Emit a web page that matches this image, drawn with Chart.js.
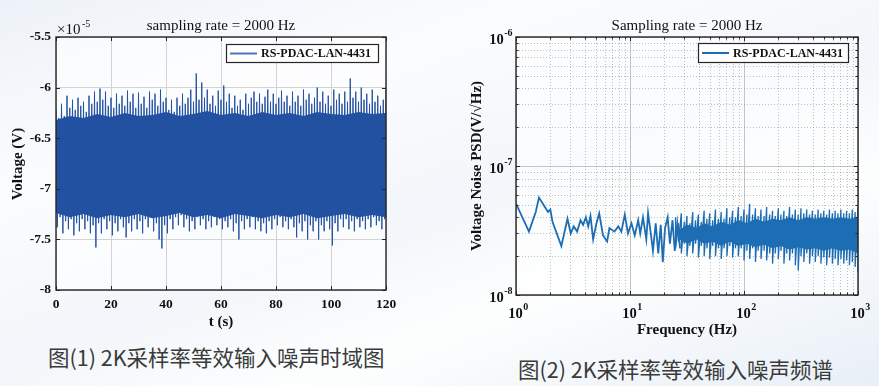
<!DOCTYPE html>
<html>
<head>
<meta charset="utf-8">
<script src="https://cdn.jsdelivr.net/npm/chart.js@4.4.0/dist/chart.umd.min.js"></script>
<style>
  html, body { margin: 0; padding: 0; }
  body {
    width: 879px; height: 386px; position: relative; overflow: hidden;
    background: linear-gradient(160deg, #edf2f8 0%, #fbfcfe 28%, #f3f6fa 52%, #fdfefe 70%, #e8eff7 100%);
  }
  #wrapL { position: absolute; left: 0; top: 0; width: 440px; height: 340px; }
  #wrapR { position: absolute; left: 440px; top: 0; width: 439px; height: 345px; }
  .cap {
    position: absolute; font-family: "Noto Sans CJK SC", sans-serif; font-size: 21.5px;
    color: #3a3a3a; white-space: nowrap; line-height: 1;
  }
</style>
</head>
<body>
<div id="wrapL"><canvas id="cL" width="440" height="340"></canvas></div>
<div id="wrapR"><canvas id="cR" width="439" height="345"></canvas></div>
<div class="cap" style="left:48px; top:346px;">图(1) 2K采样率等效输入噪声时域图</div>
<div class="cap" style="left:518px; top:358px;">图(2) 2K采样率等效输入噪声频谱</div>

<script>
// ---- time domain (x1e-5 V): upper / lower peaks of the noise, one pair per second
const tStep = 1;
const tTop = [
  -6.22, -6.30, -6.16, -6.28, -6.08, -6.20, -6.12, -6.22, -6.10, -6.18,
  -6.14, -6.24, -6.08, -6.16, -6.04, -6.14, -6.01, -6.12, -6.04, -6.18,
  -6.10, -6.20, -6.06, -6.16, -6.08, -6.18, -6.03, -6.14, -6.06, -6.20,
  -6.05, -6.16, -6.09, -6.20, -6.04, -6.12, -6.06, -6.18, -6.02, -6.14,
  -6.10, -6.22, -6.12, -6.24, -6.10, -6.18, -6.06, -6.16, -6.10, -6.02,
  -6.14, -5.86, -6.12, -5.95, -6.10, -6.02, -6.16, -6.08, -6.18, -6.03,
  -6.12, -5.98, -6.14, -6.06, -6.20, -6.08, -6.18, -6.12, -6.22, -6.06,
  -6.16, -6.10, -6.04, -6.14, -6.06, -6.16, -6.09, -6.02, -6.14, -6.06,
  -6.16, -6.10, -6.03, -6.14, -6.08, -6.18, -6.04, -6.14, -6.08, -6.18,
  -6.02, -6.12, -6.06, -6.16, -6.10, -6.00, -6.14, -6.04, -6.16, -6.08,
  -6.18, -6.02, -6.12, -6.06, -6.16, -6.04, -6.14, -5.91, -6.10, -6.04,
  -6.14, -6.00, -6.12, -6.06, -6.16, -6.02, -6.14, -6.08, -6.18, -6.12,
  -6.02
];
const tBottom = [
  -7.38, -7.28, -7.44, -7.32, -7.40, -7.30, -7.46, -7.34, -7.42, -7.30,
  -7.40, -7.32, -7.44, -7.36, -7.58, -7.34, -7.44, -7.30, -7.40, -7.32,
  -7.46, -7.34, -7.42, -7.30, -7.38, -7.48, -7.34, -7.42, -7.30, -7.40,
  -7.32, -7.44, -7.30, -7.38, -7.28, -7.42, -7.34, -7.50, -7.59, -7.36,
  -7.44, -7.30, -7.40, -7.28, -7.36, -7.26, -7.38, -7.30, -7.42, -7.32,
  -7.40, -7.28, -7.36, -7.30, -7.40, -7.32, -7.38, -7.28, -7.36, -7.30,
  -7.40, -7.32, -7.38, -7.30, -7.42, -7.34, -7.50, -7.32, -7.40, -7.30,
  -7.38, -7.28, -7.40, -7.32, -7.42, -7.34, -7.44, -7.32, -7.40, -7.30,
  -7.36, -7.28, -7.38, -7.32, -7.40, -7.30, -7.38, -7.48, -7.34, -7.42,
  -7.32, -7.50, -7.36, -7.42, -7.32, -7.50, -7.36, -7.42, -7.32, -7.40,
  -7.56, -7.34, -7.42, -7.30, -7.38, -7.30, -7.40, -7.32, -7.42, -7.30,
  -7.38, -7.32, -7.40, -7.30, -7.38, -7.28, -7.36, -7.32, -7.40, -7.30,
  -7.36
];
// solid core of the time-domain band (every 5 s)
const coreT = [0, 5, 10, 15, 20, 25, 30, 35, 40, 45, 50, 55, 60, 65, 70, 75, 80, 85, 90, 95, 100, 105, 110, 115, 120];
const coreTopL = [-6.32, -6.28, -6.30, -6.26, -6.29, -6.25, -6.28, -6.27, -6.24, -6.28, -6.26, -6.23, -6.27,
  -6.25, -6.28, -6.24, -6.27, -6.25, -6.28, -6.24, -6.26, -6.27, -6.24, -6.26, -6.25];
const coreBotL = [-7.24, -7.28, -7.25, -7.29, -7.26, -7.28, -7.25, -7.29, -7.27, -7.24, -7.28, -7.26, -7.29,
  -7.25, -7.27, -7.29, -7.26, -7.28, -7.25, -7.29, -7.27, -7.25, -7.28, -7.26, -7.28];
const xTicksL = [0, 20, 40, 60, 80, 100, 120];
const yTicksL = [-8, -7.5, -7, -6.5, -6, -5.5];

// ---- PSD (x1e-8 V/sqrt(Hz)): low-frequency line, then the dense band above ~25 Hz
const psdFreq = [1.0, 1.3, 1.49, 1.59, 1.82, 1.91, 2.0, 2.09, 2.5, 2.83, 3.02, 3.21, 3.44, 3.68, 3.88,
  4.1, 4.3, 4.5, 4.75, 5.08, 5.37, 5.8, 6.3, 6.6, 7.3, 7.9, 8.4, 9.0, 9.6, 10.3, 11.0, 11.8, 12.3,
  13.0, 13.9, 14.4, 15.3, 15.9, 16.8, 17.7, 18.6, 19.4, 20.3, 21.4, 22.4, 23.6, 24.7, 26.0, 27.5];
const psdVal = [5.1, 3.1, 4.4, 5.7, 4.7, 4.4, 4.6, 3.7, 2.4, 3.9, 3.0, 3.4, 3.1, 3.8, 3.5,
  4.0, 3.4, 4.1, 2.7, 3.6, 4.3, 2.9, 2.6, 3.3, 3.1, 3.4, 3.1, 4.2, 3.0, 3.6, 2.9, 3.8, 3.0,
  4.0, 2.7, 4.3, 2.9, 2.2, 3.6, 2.1, 3.5, 1.8, 3.3, 4.0, 2.5, 3.8, 2.2, 3.6, 2.3];
const bandFreq = [25.1, 26.6, 28.2, 29.9, 31.6, 33.5, 35.5, 37.6, 39.8, 42.2, 44.7, 47.3, 50.1, 53.1,
  56.2, 59.6, 63.1, 66.8, 70.8, 75.0, 79.4, 84.1, 89.1, 94.4, 100, 106, 112, 119, 126, 133, 141, 150,
  158, 168, 178, 188, 200, 211, 224, 237, 251, 266, 282, 299, 316, 335, 355, 376, 398, 422, 447, 473,
  501, 531, 562, 596, 631, 668, 708, 750, 794, 841, 891, 944, 1000];
const bandHigh = [4.0, 3.6, 4.3, 3.7, 4.1, 3.6, 4.4, 3.8, 4.2, 3.7, 4.5, 3.9, 4.3, 3.8,
  4.6, 3.9, 4.4, 3.9, 4.7, 4.0, 4.5, 4.0, 4.8, 4.1, 4.6, 4.2, 5.1, 4.2, 4.7, 4.1, 4.6, 4.1,
  4.8, 4.2, 4.5, 4.1, 4.7, 4.2, 4.5, 4.1, 4.8, 4.2, 4.6, 4.2, 4.7, 4.3, 4.6, 4.2, 4.5, 4.2, 4.6, 4.3,
  4.5, 4.2, 4.6, 4.3, 4.5, 4.3, 4.6, 4.3, 4.5, 4.3, 4.6, 4.4, 4.8];
const bandLow = [2.3, 2.6, 2.1, 2.5, 2.0, 2.4, 2.1, 2.5, 1.95, 2.4, 2.0, 2.3, 1.9, 2.4,
  2.0, 2.3, 1.9, 2.3, 2.0, 2.4, 1.95, 2.3, 2.0, 2.3, 1.85, 2.2, 1.9, 2.3, 1.8, 2.2, 1.9, 2.2,
  1.85, 2.1, 1.75, 2.1, 1.9, 2.2, 1.75, 2.1, 1.85, 2.1, 1.7, 1.55, 2.0, 1.8, 2.1, 1.75, 2.0, 1.8, 2.0, 1.75,
  1.95, 1.7, 1.95, 1.75, 1.9, 1.7, 1.9, 1.75, 1.85, 1.7, 1.8, 1.65, 1.5];
// solid core of the PSD band
const coreFreq = [27, 32, 38, 45, 53, 63, 75, 89, 106, 126, 150, 178, 211, 251, 299, 355, 422, 501, 596, 708, 841, 1000];
const coreHigh = [3.2, 3.5, 3.3, 3.6, 3.4, 3.7, 3.5, 3.8, 3.6, 3.9, 3.7, 3.9, 3.8, 4.0, 3.8, 4.0, 3.9, 4.0, 3.9, 4.0, 3.9, 4.0];
const coreLow = [2.7, 2.5, 2.7, 2.5, 2.6, 2.4, 2.6, 2.4, 2.5, 2.35, 2.45, 2.3, 2.4, 2.25, 2.35, 2.25, 2.3, 2.2, 2.3, 2.2, 2.25, 2.1];
const xDecR = [1, 10, 100, 1000];
const yDecR = [1e-8, 1e-7, 1e-6];
const minorMul = [2, 3, 4, 5, 6, 7, 8, 9];

const serif = '"Liberation Serif", "Times New Roman", serif';
const bandBlue = '#2351a2';
const psdBlue = '#1c6db4';
const gridCol = '#d3d3d3';
const legendName = 'RS-PDAC-LAN-4431';

function drawFrame(chart, xMaj, yMaj, xMin, yMin) {
  const { ctx, chartArea: a, scales: { x, y } } = chart;
  ctx.save();
  ctx.strokeStyle = '#262626';
  ctx.lineWidth = 1;
  ctx.beginPath();
  const tickX = (vals, len) => vals.forEach(v => {
    const p = Math.round(x.getPixelForValue(v)) + 0.5;
    ctx.moveTo(p, a.bottom); ctx.lineTo(p, a.bottom - len);
    ctx.moveTo(p, a.top); ctx.lineTo(p, a.top + len);
  });
  const tickY = (vals, len) => vals.forEach(v => {
    const p = Math.round(y.getPixelForValue(v)) + 0.5;
    ctx.moveTo(a.left, p); ctx.lineTo(a.left + len, p);
    ctx.moveTo(a.right, p); ctx.lineTo(a.right - len, p);
  });
  tickX(xMaj, 4); tickY(yMaj, 4);
  tickX(xMin, 2.5); tickY(yMin, 2.5);
  ctx.stroke();
  ctx.lineWidth = 1.4;
  ctx.strokeRect(a.left, a.top, a.right - a.left, a.bottom - a.top);
  ctx.restore();
}

function drawLegend(ctx, bx, by, bw, bh, color, lw) {
  ctx.save();
  ctx.fillStyle = 'rgba(255,255,255,0.9)';
  ctx.fillRect(bx, by, bw, bh);
  ctx.strokeStyle = '#262626';
  ctx.lineWidth = 1.2;
  ctx.strokeRect(bx + 0.5, by + 0.5, bw, bh);
  ctx.strokeStyle = color;
  ctx.lineWidth = lw;
  ctx.beginPath();
  ctx.moveTo(bx + 4, by + bh / 2 + 0.5); ctx.lineTo(bx + 31, by + bh / 2 + 0.5);
  ctx.stroke();
  ctx.fillStyle = '#111';
  ctx.font = 'bold 12px ' + serif;
  ctx.textBaseline = 'middle';
  ctx.fillText(legendName, bx + 35, by + bh / 2 + 1);
  ctx.restore();
}

function drawPow(ctx, exp, x, y, align, size) {
  ctx.save();
  ctx.fillStyle = '#111';
  ctx.textBaseline = 'middle';
  ctx.textAlign = 'left';
  ctx.font = 'bold ' + size + 'px ' + serif;
  const wb = ctx.measureText('10').width;
  ctx.font = 'bold ' + Math.round(size * 0.7) + 'px ' + serif;
  const we = ctx.measureText(exp).width;
  let x0 = x;
  if (align === 'right') x0 = x - wb - we;
  if (align === 'center') x0 = x - (wb + we) / 2;
  ctx.font = 'bold ' + size + 'px ' + serif;
  ctx.fillText('10', x0, y);
  ctx.font = 'bold ' + Math.round(size * 0.7) + 'px ' + serif;
  ctx.fillText(exp, x0 + wb + 0.5, y - size * 0.42);
  ctx.restore();
}

function areaFill(chart) {
  const { ctx, chartArea: a } = chart;
  ctx.save();
  ctx.fillStyle = 'rgba(255,255,255,0.6)';
  ctx.fillRect(a.left, a.top, a.right - a.left, a.bottom - a.top);
  ctx.restore();
}

// ---------------- left chart ----------------
const leftDeco = {
  id: 'leftDeco',
  beforeDraw: areaFill,
  afterDatasetsDraw(chart) { drawFrame(chart, xTicksL, yTicksL, [], []); },
  afterDraw(chart) {
    const ctx = chart.ctx;
    ctx.save();
    ctx.fillStyle = '#111';
    ctx.textAlign = 'center';
    ctx.textBaseline = 'middle';
    ctx.font = '15px ' + serif;
    ctx.fillText('sampling rate = 2000 Hz', 221, 26);
    ctx.font = 'bold 15px ' + serif;
    ctx.fillText('t (s)', 221, 322);
    ctx.translate(18, 164);
    ctx.rotate(-Math.PI / 2);
    ctx.fillText('Voltage (V)', 0, 0);
    ctx.restore();
    ctx.save();
    ctx.fillStyle = '#111';
    ctx.textBaseline = 'middle';
    ctx.font = '15px ' + serif;
    ctx.fillText('\u00d710', 57, 30);
    ctx.font = '10px ' + serif;
    ctx.fillText('-5', 82, 24);
    ctx.restore();
    drawLegend(ctx, 226, 44, 152, 18, '#4d72bf', 2);
  }
};

new Chart(document.getElementById('cL'), {
  type: 'line',
  data: {
    datasets: [
      {
        data: coreT.map((t, i) => ({ x: t, y: coreTopL[i] })),
        borderWidth: 0, backgroundColor: bandBlue, pointRadius: 0, fill: '+1', tension: 0
      },
      {
        data: coreT.map((t, i) => ({ x: t, y: coreBotL[i] })),
        borderWidth: 0, pointRadius: 0, fill: false, tension: 0
      },
      {
        // each second: a positive peak, then a negative peak half a step later
        data: tTop.flatMap((v, i) => [
          { x: i * tStep, y: v },
          { x: i * tStep + tStep / 2, y: tBottom[i] }
        ]),
        borderColor: bandBlue, borderWidth: 1, pointRadius: 0, fill: false, tension: 0
      }
    ]
  },
  options: {
    responsive: false,
    animation: false,
    layout: { padding: { left: 0, right: 54, top: 37, bottom: 20 } },
    plugins: { legend: { display: false }, tooltip: { enabled: false } },
    scales: {
      x: {
        type: 'linear', min: 0, max: 120,
        afterBuildTicks: s => { s.ticks = xTicksL.map(v => ({ value: v })); },
        afterFit: s => { s.height = 30; },
        grid: { color: gridCol, drawTicks: false },
        border: { display: false },
        ticks: { font: { family: serif, size: 13.5, weight: 'bold' }, color: '#111', padding: 6, maxRotation: 0, autoSkip: false }
      },
      y: {
        type: 'linear', min: -8, max: -5.5,
        afterBuildTicks: s => { s.ticks = yTicksL.map(v => ({ value: v })); },
        afterFit: s => { s.width = 56; },
        grid: { color: gridCol, drawTicks: false },
        border: { display: false },
        ticks: { font: { family: serif, size: 13.5, weight: 'bold' }, color: '#111', padding: 5, callback: v => String(v) }
      }
    }
  },
  plugins: [leftDeco]
});

// ---------------- right chart ----------------
const minorX = [], minorY = [];
xDecR.slice(0, -1).forEach(d => minorMul.forEach(m => minorX.push(d * m)));
yDecR.slice(0, -1).forEach(d => minorMul.forEach(m => minorY.push(d * m)));

const rightDeco = {
  id: 'rightDeco',
  beforeDraw: areaFill,
  beforeDatasetsDraw(chart) {
    const { ctx, chartArea: a, scales: { x, y } } = chart;
    ctx.save();
    ctx.strokeStyle = 'rgba(140,140,140,0.55)';
    ctx.lineWidth = 1;
    ctx.setLineDash([1, 2]);
    ctx.beginPath();
    minorX.forEach(v => {
      const p = Math.round(x.getPixelForValue(v)) + 0.5;
      ctx.moveTo(p, a.top); ctx.lineTo(p, a.bottom);
    });
    minorY.forEach(v => {
      const p = Math.round(y.getPixelForValue(v)) + 0.5;
      ctx.moveTo(a.left, p); ctx.lineTo(a.right, p);
    });
    ctx.stroke();
    ctx.restore();
  },
  afterDatasetsDraw(chart) { drawFrame(chart, xDecR, yDecR, minorX, minorY); },
  afterDraw(chart) {
    const { ctx, chartArea: a, scales: { x, y } } = chart;
    xDecR.forEach((v, i) => drawPow(ctx, String(i), x.getPixelForValue(v) + 2, a.bottom + 19, 'center', 14.5));
    yDecR.forEach(v => drawPow(ctx, String(Math.round(Math.log10(v))), a.left - 4, y.getPixelForValue(v) + 3, 'right', 14.5));
    ctx.save();
    ctx.fillStyle = '#111';
    ctx.textAlign = 'center';
    ctx.textBaseline = 'middle';
    ctx.font = '15px ' + serif;
    ctx.fillText('Sampling rate = 2000 Hz', 247, 26);
    ctx.font = 'bold 15px ' + serif;
    ctx.fillText('Frequency (Hz)', 247, 330);
    ctx.translate(37, 166);
    ctx.rotate(-Math.PI / 2);
    ctx.fillText('Voltage Noise PSD(V/\u221aHz)', 0, 0);
    ctx.restore();
    drawLegend(ctx, 258, 43, 150, 19, psdBlue, 2);
  }
};

new Chart(document.getElementById('cR'), {
  type: 'line',
  data: {
    datasets: [
      {
        data: coreFreq.map((f, i) => ({ x: f, y: coreHigh[i] * 1e-8 })),
        borderWidth: 0, backgroundColor: psdBlue, pointRadius: 0, fill: '+1', tension: 0
      },
      {
        data: coreFreq.map((f, i) => ({ x: f, y: coreLow[i] * 1e-8 })),
        borderWidth: 0, pointRadius: 0, fill: false, tension: 0
      },
      {
        data: psdFreq.map((f, i) => ({ x: f, y: psdVal[i] * 1e-8 })),
        borderColor: psdBlue, borderWidth: 1.8, pointRadius: 0, fill: false, tension: 0
      },
      {
        data: bandFreq.flatMap((f, i) => [
          { x: f, y: bandHigh[i] * 1e-8 },
          { x: f, y: bandLow[i] * 1e-8 }
        ]),
        borderColor: psdBlue, borderWidth: 1.3, pointRadius: 0, fill: false, tension: 0
      }
    ]
  },
  options: {
    responsive: false,
    animation: false,
    layout: { padding: { left: 0, right: 21, top: 37, bottom: 20 } },
    plugins: { legend: { display: false }, tooltip: { enabled: false } },
    scales: {
      x: {
        type: 'logarithmic', min: 1, max: 1000,
        afterBuildTicks: s => { s.ticks = xDecR.map(v => ({ value: v })); },
        afterFit: s => { s.height = 30; },
        grid: { color: '#c4c4c4', drawTicks: false },
        border: { display: false },
        ticks: { display: false }
      },
      y: {
        type: 'logarithmic', min: 1e-8, max: 1e-6,
        afterBuildTicks: s => { s.ticks = yDecR.map(v => ({ value: v })); },
        afterFit: s => { s.width = 76; },
        grid: { color: '#c4c4c4', drawTicks: false },
        border: { display: false },
        ticks: { display: false }
      }
    }
  },
  plugins: [rightDeco]
});
</script>
</body>
</html>
